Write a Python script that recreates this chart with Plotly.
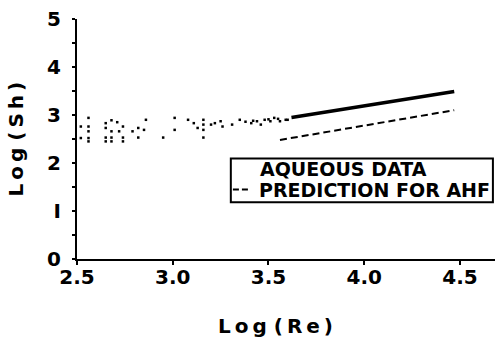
import plotly.graph_objects as go

# ---- data ----
scatter_x = [2.56, 2.68, 2.71, 2.65, 2.86, 3.01, 2.52, 2.56, 2.74, 2.82, 2.85, 3.01, 2.65, 2.56,
             2.68, 2.72, 2.79, 2.52, 2.56, 2.65, 2.68, 2.74, 2.82, 2.95, 2.56, 2.65, 2.68, 2.74,
             3.08, 3.11, 3.13, 3.16, 3.16, 3.16, 3.16, 3.20, 3.22, 3.25, 3.26, 3.31, 3.35, 3.41,
             3.44, 3.46, 3.48, 3.51, 3.53, 3.56, 3.59, 3.60, 3.42, 3.50, 3.55, 3.38]
scatter_y = [2.94, 2.89, 2.85, 2.83, 2.90, 2.94, 2.76, 2.76, 2.76, 2.73, 2.69, 2.69, 2.73, 2.66,
             2.66, 2.66, 2.66, 2.52, 2.52, 2.53, 2.53, 2.53, 2.53, 2.53, 2.45, 2.45, 2.45, 2.45,
             2.90, 2.83, 2.73, 2.90, 2.80, 2.69, 2.53, 2.80, 2.83, 2.87, 2.76, 2.80, 2.90, 2.83,
             2.87, 2.80, 2.90, 2.87, 2.94, 2.87, 2.90, 2.90, 2.88, 2.91, 2.92, 2.86]

dense_x = [3.62, 3.70, 3.80, 3.90, 4.00, 4.10, 4.20, 4.30, 4.47]
dense_y = [2.95, 3.00, 3.07, 3.13, 3.19, 3.25, 3.31, 3.38, 3.49]

pred_x = [3.56, 4.47]
pred_y = [2.48, 3.10]

x_ticks = [2.5, 3.0, 3.5, 4.0, 4.5]
x_ticktext = ["2.5", "3.0", "3.5", "4.0", "4.5"]
y_ticks = [0, 1, 2, 3, 4, 5]
y_ticktext = ["0", "I", "2", "3", "4", "5"]

legend_labels = ["AQUEOUS DATA", "PREDICTION FOR AHF"]
x_title = "L\u2009o\u2009g (\u2009R\u2009e\u2009)"
y_title = "L\u2009o\u2009g (\u2009S\u2009h\u2009)"

TICKFONT = dict(family="DejaVu Sans", size=20, color="black", weight="bold")
TITLEFONT = dict(family="DejaVu Sans", size=20, color="black", weight="bold")
LEGFONT = dict(family="DejaVu Sans", size=19, color="black", weight="bold")

fig = go.Figure()
fig.add_trace(go.Scatter(x=scatter_x, y=scatter_y, mode="markers",
                         marker=dict(size=2.5, color="black", symbol="square"),
                         name=legend_labels[0], showlegend=False))
fig.add_trace(go.Scatter(x=dense_x, y=dense_y, mode="lines",
                         line=dict(color="black", width=3.5),
                         name=legend_labels[0], showlegend=False))
fig.add_trace(go.Scatter(x=pred_x, y=pred_y, mode="lines",
                         line=dict(color="black", width=2, dash="7px,4px"),
                         name=legend_labels[1], showlegend=False))

# manual legend (box, dash sample, labels)
fig.add_shape(type="rect", xref="paper", yref="paper", x0=0.368, x1=0.995, y0=0.236, y1=0.419,
              line=dict(color="black", width=2), fillcolor="white", layer="above")
fig.add_shape(type="line", xref="paper", yref="paper", x0=0.373, x1=0.414, y0=0.29, y1=0.29,
              line=dict(color="black", width=2, dash="6px,3px"))
fig.add_annotation(xref="paper", yref="paper", x=0.433, y=0.374, xanchor="left", yanchor="middle",
                   text=legend_labels[0], showarrow=False, font=LEGFONT)
fig.add_annotation(xref="paper", yref="paper", x=0.431, y=0.286, xanchor="left", yanchor="middle",
                   text=legend_labels[1], showarrow=False, font=LEGFONT)

# axis titles
fig.add_annotation(xref="paper", yref="paper", x=0.475, y=-0.279, xanchor="center", yanchor="middle",
                   text=x_title, showarrow=False, font=TITLEFONT)
fig.add_annotation(xref="paper", yref="paper", x=-0.146, y=0.502, xanchor="center", yanchor="middle",
                   text=y_title, textangle=-90, showarrow=False, font=TITLEFONT)

fig.update_layout(
    width=495, height=337,
    margin=dict(l=77, r=0, t=19, b=78, autoexpand=False),
    paper_bgcolor="white", plot_bgcolor="white",
    showlegend=False,
    xaxis=dict(range=[2.5, 4.683], tickvals=x_ticks, ticktext=x_ticktext, automargin=False,
               showline=True, linecolor="black", linewidth=2, showgrid=False, zeroline=False,
               ticks="outside", ticklen=4, tickwidth=2, tickcolor="black",
               tickfont=TICKFONT, ticklabelstandoff=-5),
    yaxis=dict(range=[0, 5], tickvals=y_ticks, ticktext=y_ticktext, automargin=False,
               showline=True, linecolor="black", linewidth=2, showgrid=False, zeroline=False,
               ticks="outside", ticklen=3, tickwidth=2, tickcolor="black",
               minor=dict(dtick=0.5, ticks="outside", ticklen=3, tickwidth=2, tickcolor="black"),
               tickfont=TICKFONT, ticklabelstandoff=7),
)

fig.write_html("out.html", config={"displayModeBar": False},
               post_script="document.body.style.margin='0px';")
